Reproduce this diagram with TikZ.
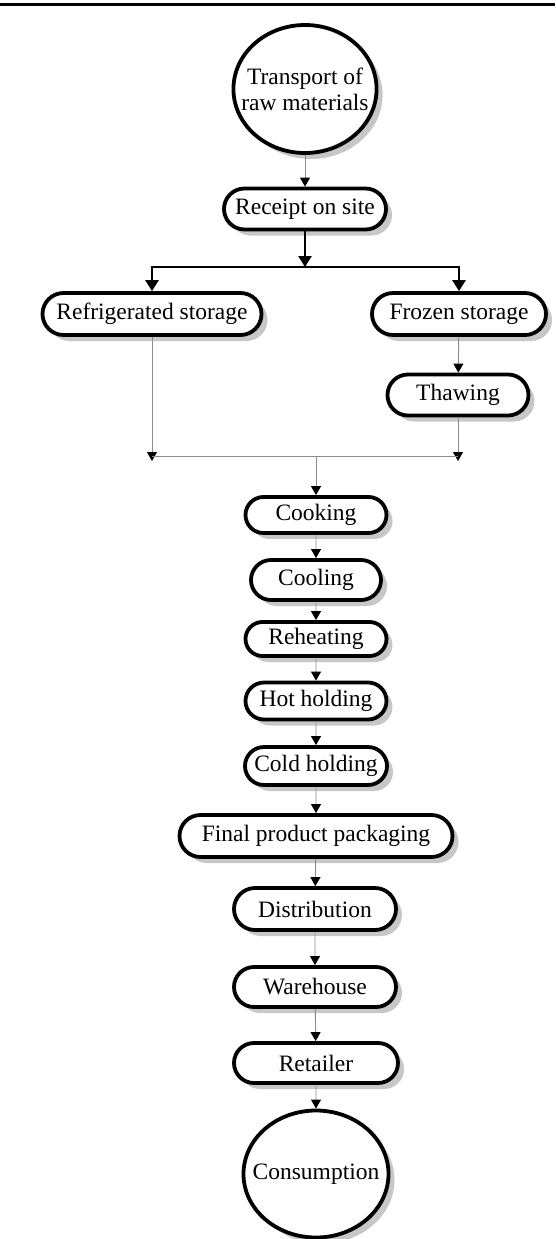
\documentclass[tikz,border=0pt]{standalone}
\usepackage{fontspec}
\setmainfont{Liberation Serif}
\usetikzlibrary{arrows.meta,shapes.misc,shapes.geometric,shadows}

\tikzset{
  stage/.style={rounded rectangle, draw, line width=3.8pt, fill=white,
    minimum height=40pt, inner sep=2pt, font=\fontsize{23.5}{27}\selectfont,
    drop shadow={shadow xshift=6pt, shadow yshift=-6pt, fill=black!22, opacity=1}},
  terminal/.style={ellipse, draw, line width=3.8pt, fill=white, align=center,
    inner ysep=0pt, inner xsep=-13pt, font=\fontsize{23.5}{26}\selectfont,
    drop shadow={shadow xshift=6pt, shadow yshift=-6pt, fill=black!22, opacity=1}},
  flow/.style={draw=black!45, line width=0.9pt, -{Triangle[black,width=10pt,length=9pt]}},
  mainflow/.style={line width=2.6pt, -{Triangle[width=13pt,length=11pt]}},
}

\begin{document}
\begin{tikzpicture}[x=1pt,y=-1pt]
    \useasboundingbox (0,0) rectangle (555,1239);
    \draw[line width=3pt] (0,5) -- (555,5);

    \node[terminal, minimum width=140pt, minimum height=128pt] (transport) at (305,89) {Transport of\\raw materials};
    \node[stage, minimum width=166pt, minimum height=41pt] (receipt) at (305,209) {Receipt on site};
    \coordinate (split) at (305,267);
    \node[stage, minimum width=223pt, minimum height=42pt] (refrig) at (152,314) {Refrigerated storage};
    \node[stage, minimum width=178pt, minimum height=42pt] (frozen) at (459,314) {Frozen storage};
    \node[stage, minimum width=145pt, minimum height=41pt] (thaw) at (458,395) {Thawing};

    \coordinate (mergeL) at (152,461);
    \coordinate (mergeR) at (458,461);
    \coordinate (merge) at (316,456);

    \node[stage, minimum width=145pt, minimum height=36pt] (cook) at (316,515) {Cooking};
    \node[stage, minimum width=134pt, minimum height=40pt] (cool) at (316,580) {Cooling};
    \node[stage, minimum width=145pt, minimum height=34pt] (reheat) at (316,639) {Reheating};
    \node[stage, minimum width=145pt, minimum height=37pt] (hot) at (316,701) {Hot holding};
    \node[stage, minimum width=146pt, minimum height=38pt] (cold) at (316,766) {Cold holding};
    \node[stage, minimum width=277pt, minimum height=42pt] (pack) at (316,836) {Final product packaging};
    \node[stage, minimum width=166pt, minimum height=42pt] (distrib) at (315,909) {Distribution};
    \node[stage, minimum width=166pt, minimum height=40pt] (store) at (315,987) {Warehouse};
    \node[stage, minimum width=168pt, minimum height=40pt] (retail) at (316,1063) {Retailer};
    \node[terminal, minimum width=145pt, minimum height=127pt] (consume) at (316,1174) {Consumption};

    \draw[flow] (transport) -- (receipt);
    \draw[mainflow] (receipt) -- (split);
    \draw[mainflow] (split) -| (refrig);
    \draw[mainflow] (split) -| (frozen);
    \draw[flow] (frozen) -- (thaw);

    \draw[flow] (refrig) -- (mergeL);
    \draw[flow] (thaw) -- (mergeR);
    \draw[draw=black!45, line width=0.9pt] (mergeL |- merge) -- (mergeR |- merge);
    \draw[flow] (merge) -- (cook);

    \foreach \a/\b in {cook/cool, cool/reheat, reheat/hot, hot/cold, cold/pack,
                       pack/distrib, distrib/store, store/retail, retail/consume}
        \draw[flow] (\a) -- (\b);
\end{tikzpicture}
\end{document}
